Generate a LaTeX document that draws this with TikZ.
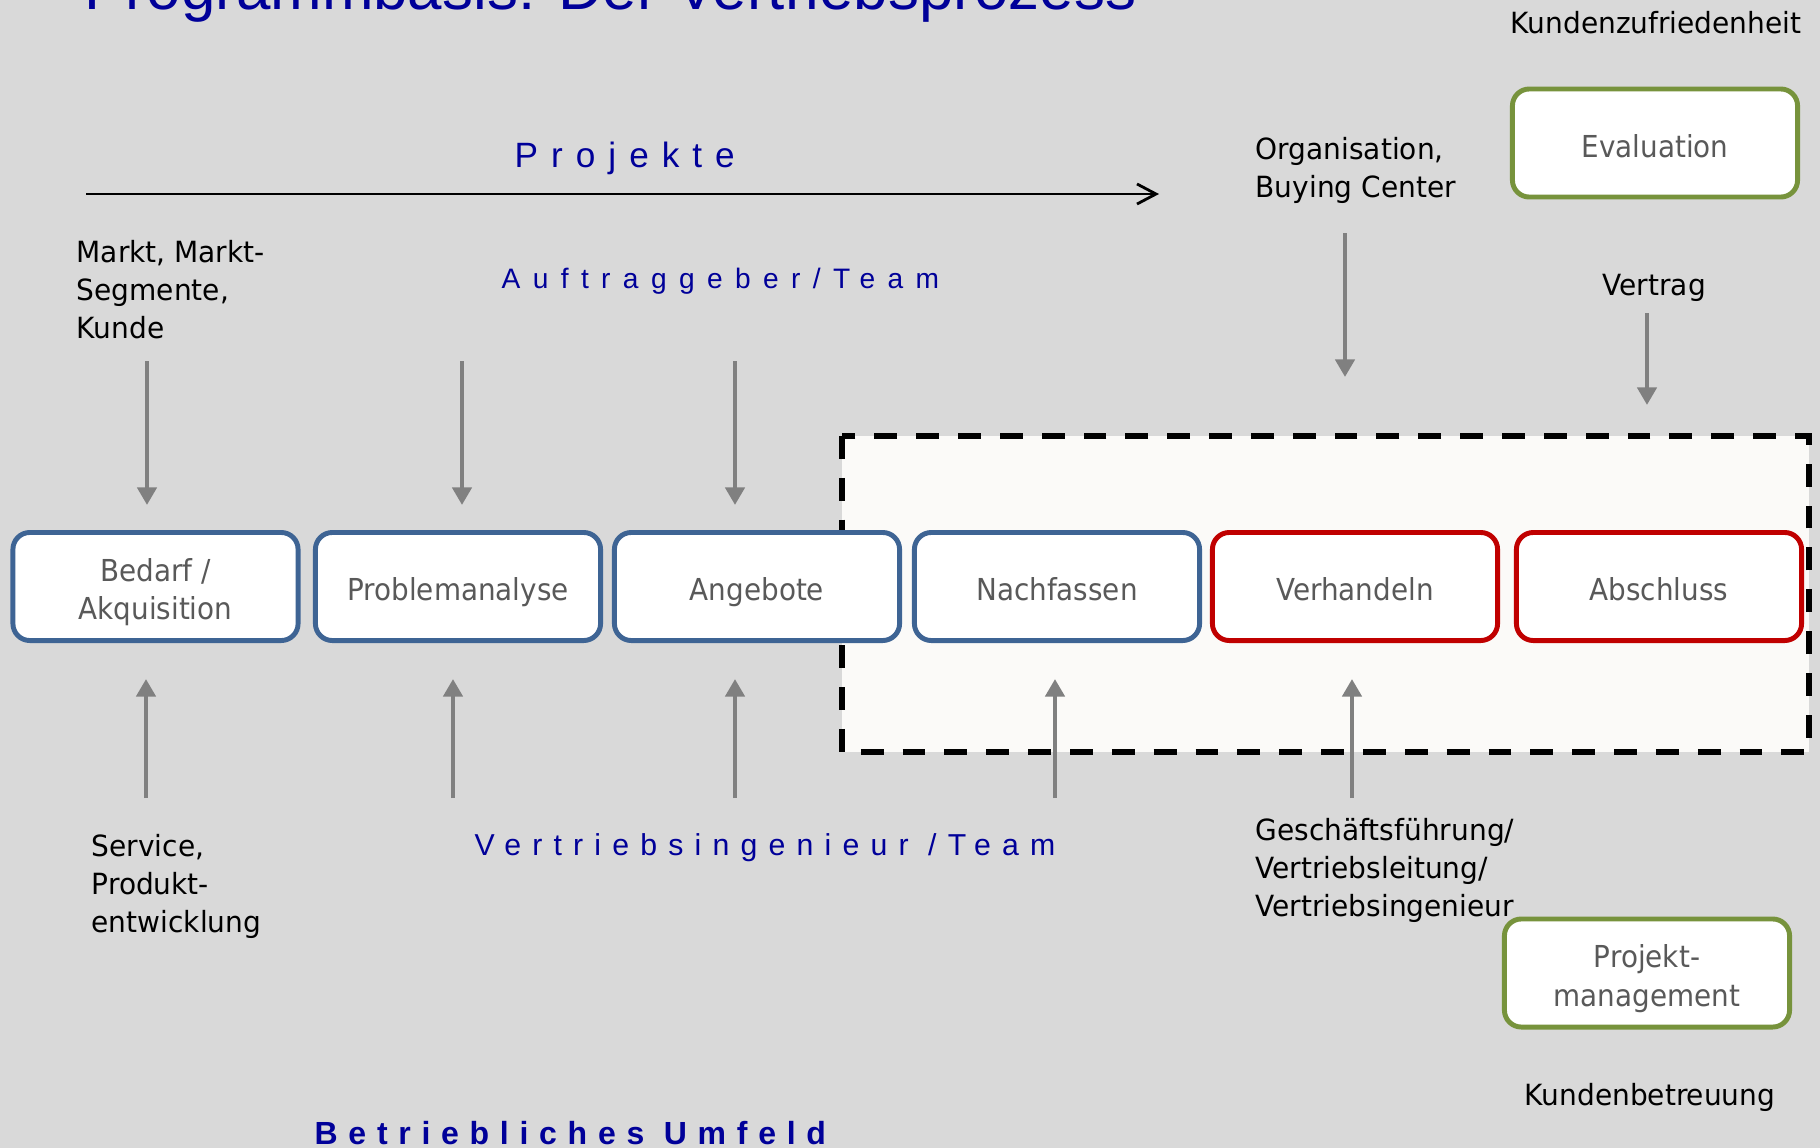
\documentclass[tikz,border=0pt]{standalone}
\usepackage{fontspec}
\setmainfont{Liberation Sans}
\newfontfamily\labelfont[FakeStretch=0.92]{DejaVu Sans}
\newfontfamily\notefont[FakeStretch=0.96]{DejaVu Sans}
\usetikzlibrary{arrows.meta}
\definecolor{bggray}{RGB}{217,217,217}
\definecolor{zonefill}{RGB}{251,250,248}
\definecolor{phaseblue}{RGB}{62,100,148}
\definecolor{phasered}{RGB}{192,0,0}
\definecolor{phasegreen}{RGB}{119,147,60}
\definecolor{arrowgray}{RGB}{128,128,128}
\definecolor{boxtext}{RGB}{89,89,89}
\definecolor{headblue}{RGB}{0,0,153}
\tikzset{phase/.style={draw=phaseblue, line width=1.4pt, fill=white,
                       rounded corners=4.8pt, inner sep=0pt,
                       minimum width=2.85cm, minimum height=1.08cm,
                       align=center, text=boxtext,
                       text height=8pt, text depth=0pt,
                       font=\labelfont\fontsize{8.6}{10.9}\selectfont},
         twoline/.style={text height=18.9pt},
         redphase/.style={phase, draw=phasered},
         greenphase/.style={phase, draw=phasegreen},
         note/.style={inner sep=0pt, align=left, anchor=base west,
                      font=\notefont\fontsize{8.3}{10.8}\selectfont},
         spaced/.style={inner sep=0pt, anchor=base west, text=headblue},
         influence/.style={draw=arrowgray, line width=1.4pt,
                           -{Triangle[length=5pt, width=5.4pt]}}}

\begin{document}
\begin{tikzpicture}[x=0.01cm, y=-0.01cm]
      \useasboundingbox[fill=bggray] (0,0) rectangle (1820,1148);
      % title, cut off by the top edge
      \node[spaced, font=\fontsize{17.6}{20}\selectfont] (ttl) at (84,9)
        {Programmbasis: Der Vertriebsprozess};

      % dashed zone behind the last phases
      \draw[line width=1.6pt, dash pattern=on 6.5pt off 5.4pt, fill=zonefill]
        (842,436) rectangle (1809,752);

      \draw node[phase, twoline] (bedarf) at (155.5,586.5) {Bedarf /\\Akquisition};
      \draw node[phase] (problem) at (458,586.5) {Problemanalyse};
      \draw node[phase] (angebot) at (757,586.5) {Angebote};
      \draw node[phase] (nachf) at (1057,586.5) {Nachfassen};
      \draw node[redphase] (verh) at (1355,586.5) {Verhandeln};
      \draw node[redphase] (abschl) at (1659,586.5) {Abschluss};
      \draw node[greenphase] (eval) at (1655,143) {Evaluation};
      \draw node[greenphase, twoline] (pm) at (1647,973) {Projekt-\\management};

      % anchors sit on the last line of each note
      \node[note] (kzuf) at (1510,33) {Kundenzufriedenheit};
      \node[note] (orga) at (1255,197) {Organisation,\\Buying Center};
      \node[note] (vertr) at (1602,295) {Vertrag};
      \node[note] (markt) at (76,338) {Markt, Markt-\\Segmente,\\Kunde};
      \node[note] (serv) at (91,932) {Service,\\Produkt-\\entwicklung};
      \node[note] (gf) at (1255,916)
        {Geschäftsführung/\\Vertriebsleitung/\\Vertriebsingenieur};
      \node[note] (kbetr) at (1524,1105) {Kundenbetreuung};

      \node[spaced, font=\fontsize{10}{12}\selectfont\addfontfeature{LetterSpace=37}]
        (proj) at (514,167) {Projekte};
      \node[spaced, font=\fontsize{8}{10}\selectfont\addfontfeature{LetterSpace=44}]
        (auftr) at (501,288) {Auftraggeber/Team};
      \node[spaced, font=\fontsize{8.6}{10}\selectfont\addfontfeature{LetterSpace=37}]
        (vi) at (474,855) {Vertriebsingenieur /Team};
      \node[spaced, font=\bfseries\fontsize{9.1}{11}\selectfont\addfontfeature{LetterSpace=33.5}]
        (umfeld) at (314,1144) {Betriebliches Umfeld};

      % free ends of the arrows
      \coordinate (ps) at (86,194);   \coordinate (pe) at (1159,194);
      \coordinate (d1) at (147,361);  \coordinate (d1e) at (147,505);
      \coordinate (d2) at (462,361);  \coordinate (d2e) at (462,505);
      \coordinate (d3) at (735,361);  \coordinate (d3e) at (735,505);
      \coordinate (d4) at (1345,233); \coordinate (d4e) at (1345,377);
      \coordinate (d5) at (1647,313); \coordinate (d5e) at (1647,405);
      \coordinate (u1) at (146,798);  \coordinate (u1e) at (146,679);
      \coordinate (u2) at (453,798);  \coordinate (u2e) at (453,679);
      \coordinate (u3) at (735,798);  \coordinate (u3e) at (735,679);
      \coordinate (u4) at (1055,798); \coordinate (u4e) at (1055,679);
      \coordinate (u5) at (1352,798); \coordinate (u5e) at (1352,679);

      \draw[line width=0.8pt, -{Straight Barb[length=5.4pt, width=5.7pt]}]
        (ps) -- (pe);
      \draw[influence] (d1) -- (d1e);
      \draw[influence] (d2) -- (d2e);
      \draw[influence] (d3) -- (d3e);
      \draw[influence] (d4) -- (d4e);
      \draw[influence] (d5) -- (d5e);
      \draw[influence] (u1) -- (u1e);
      \draw[influence] (u2) -- (u2e);
      \draw[influence] (u3) -- (u3e);
      \draw[influence] (u4) -- (u4e);
      \draw[influence] (u5) -- (u5e);
\end{tikzpicture}
\end{document}
